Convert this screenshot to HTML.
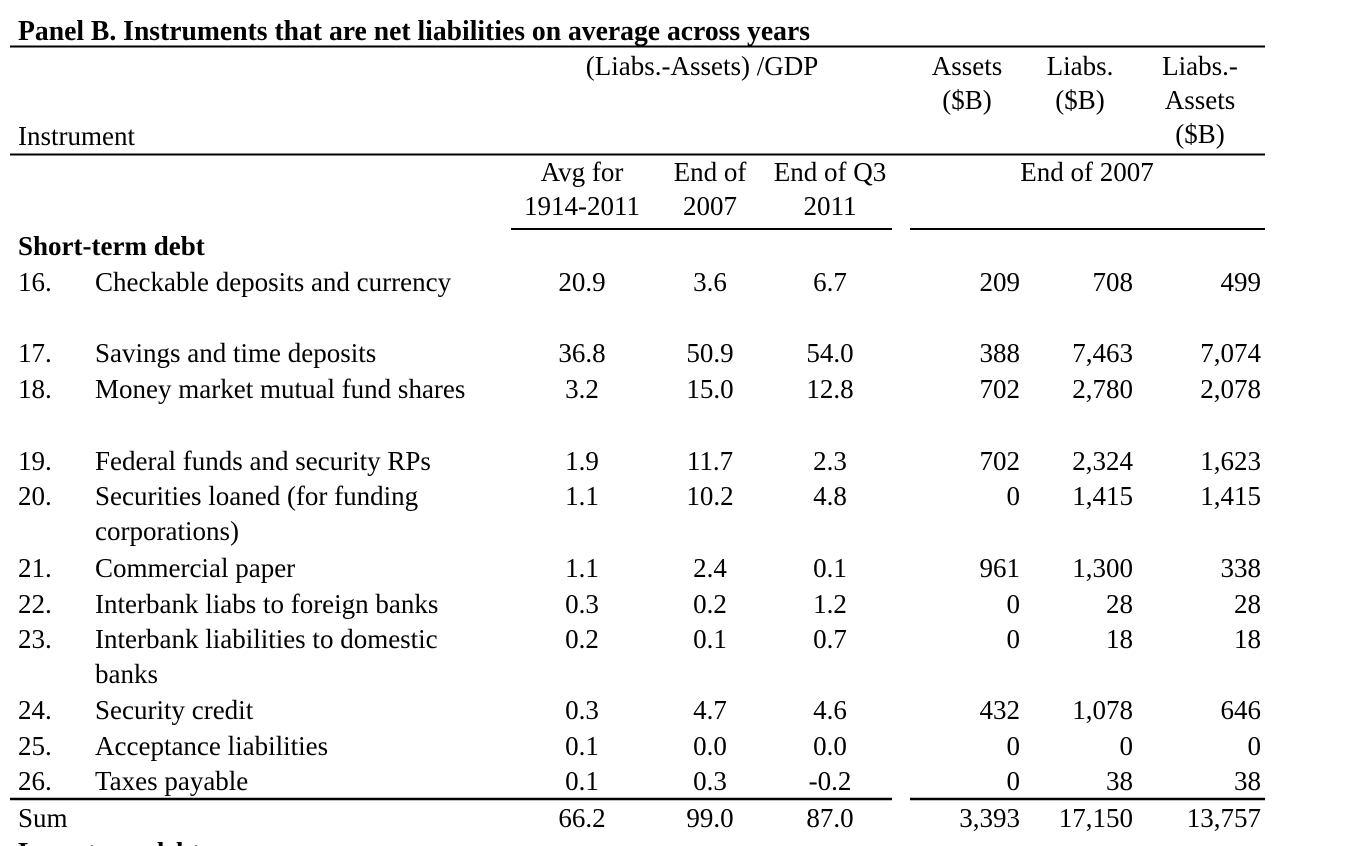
<!DOCTYPE html>
<html><head><meta charset="utf-8"><style>
html,body{margin:0;padding:0;background:#fff;}
svg{display:block;font-family:"Liberation Serif","Times New Roman",serif;}
</style></head><body>
<svg id="t" width="1372" height="846" viewBox="0 0 1372 846">
<text x="18" y="40" font-size="28" font-weight="bold" textLength="792" lengthAdjust="spacingAndGlyphs">Panel B. Instruments that are net liabilities on average across years</text>
<line x1="10" y1="46.5" x2="1265" y2="46.5" stroke="#000" stroke-width="2"/>
<g font-size="27" fill="#000">
<text x="702" y="75" text-anchor="middle">(Liabs.-Assets) /GDP</text>
<text x="967" y="75" text-anchor="middle">Assets</text>
<text x="967" y="109" text-anchor="middle">($B)</text>
<text x="1080" y="75" text-anchor="middle">Liabs.</text>
<text x="1080" y="109" text-anchor="middle">($B)</text>
<text x="1200" y="75" text-anchor="middle">Liabs.-</text>
<text x="1200" y="109" text-anchor="middle">Assets</text>
<text x="1200" y="143" text-anchor="middle">($B)</text>
<text x="18" y="145">Instrument</text>
<text x="582" y="181" text-anchor="middle">Avg for</text>
<text x="582" y="215" text-anchor="middle">1914-2011</text>
<text x="710" y="181" text-anchor="middle">End of</text>
<text x="710" y="215" text-anchor="middle">2007</text>
<text x="830" y="181" text-anchor="middle">End of Q3</text>
<text x="830" y="215" text-anchor="middle">2011</text>
<text x="1087" y="181" text-anchor="middle">End of 2007</text>
</g>
<line x1="10" y1="154.5" x2="1265" y2="154.5" stroke="#000" stroke-width="2"/>
<line x1="511" y1="229" x2="892" y2="229" stroke="#000" stroke-width="2"/>
<line x1="910" y1="229" x2="1265" y2="229" stroke="#000" stroke-width="2"/>
<text x="18" y="255" font-size="27" font-weight="bold">Short-term debt</text>
<line x1="10" y1="799" x2="892" y2="799" stroke="#000" stroke-width="2.5"/>
<line x1="910" y1="799" x2="1265" y2="799" stroke="#000" stroke-width="2.5"/>
<text x="18" y="861" font-size="27" font-weight="bold">Long-term debt</text>
<g id="rows"></g>
</svg>
<script>
const nums=["16.","17.","18.","19.","20.","21.","22.","23.","24.","25.","26.","Sum"];
const labels=["Checkable deposits and currency","Savings and time deposits","Money market mutual fund shares","Federal funds and security RPs","Securities loaned (for funding","Commercial paper","Interbank liabs to foreign banks","Interbank liabilities to domestic","Security credit","Acceptance liabilities","Taxes payable",""];
const contLines=[null,null,null,null,"corporations)",null,null,"banks",null,null,null,null];
const avg=["20.9","36.8","3.2","1.9","1.1","1.1","0.3","0.2","0.3","0.1","0.1","66.2"];
const end2007=["3.6","50.9","15.0","11.7","10.2","2.4","0.2","0.1","4.7","0.0","0.3","99.0"];
const endQ3=["6.7","54.0","12.8","2.3","4.8","0.1","1.2","0.7","4.6","0.0","-0.2","87.0"];
const assets=["209","388","702","702","0","961","0","0","432","0","0","3,393"];
const liabs=["708","7,463","2,780","2,324","1,415","1,300","28","18","1,078","0","38","17,150"];
const net=["499","7,074","2,078","1,623","1,415","338","28","18","646","0","38","13,757"];
const rowY=[291,362,398,470,505,577,613,648,719,755,790,827];
const g=document.getElementById('rows');
function txt(x,y,s,anchor){const t=document.createElementNS('http://www.w3.org/2000/svg','text');t.setAttribute('x',x);t.setAttribute('y',y);t.setAttribute('font-size','27');if(anchor)t.setAttribute('text-anchor',anchor);t.textContent=s;g.appendChild(t);return t;}
for(let i=0;i<nums.length;i++){
 const y=rowY[i];
 const a=txt(18,y,nums[i]);
 
 
 if(labels[i]){const b=txt(95,y,labels[i]);
 
 }
 if(contLines[i]){const c=txt(95,y+35,contLines[i]);
 
 }
 const d=txt(582,y,avg[i],'middle');
 
 
 const e=txt(710,y,end2007[i],'middle');
 
 
 const f=txt(830,y,endQ3[i],'middle');
 
 
 const h=txt(1020,y,assets[i],'end');
 
 
 const k=txt(1133,y,liabs[i],'end');
 
 
 const m=txt(1261,y,net[i],'end');
 
 
}
</script>
</body></html>
